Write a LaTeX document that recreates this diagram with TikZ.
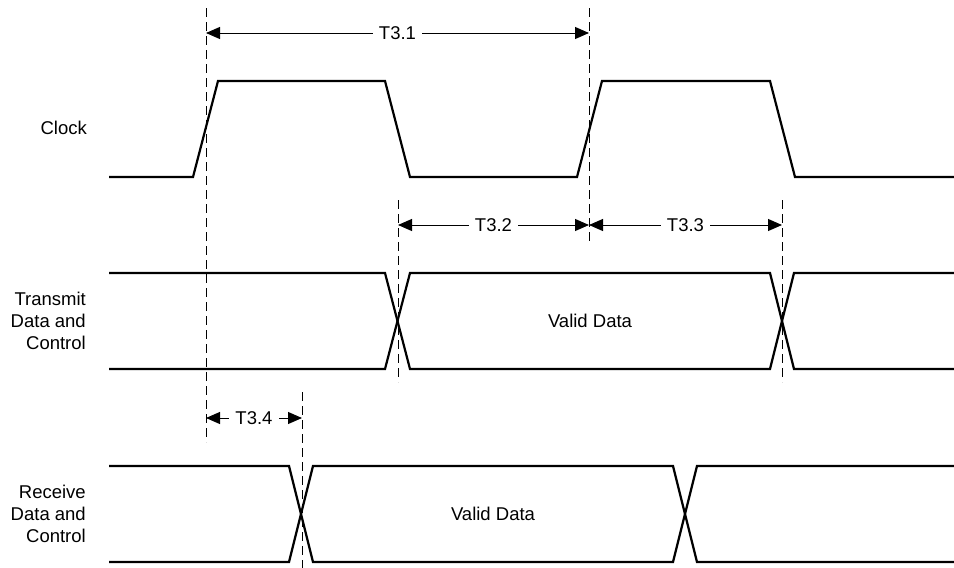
\documentclass[tikz,border=0pt]{standalone}
\usepackage{fontspec}
\setmainfont{Liberation Sans}
\usetikzlibrary{arrows.meta}

\begin{document}
\begin{tikzpicture}[x=1pt,y=-1pt,
  wave/.style={line width=2.2pt,line join=miter},
  guide/.style={line width=1pt,dash pattern=on 9pt off 5pt},
  span/.style={line width=1pt,{Triangle[length=14pt,width=12pt]}-{Triangle[length=14pt,width=12pt]}},
  lbl/.style={font=\fontsize{18.5}{22}\selectfont,inner sep=0pt},
  tag/.style={lbl,fill=white,inner xsep=6pt,inner ysep=2pt}]
  \useasboundingbox (0,0) rectangle (954,568);
  % signal names
  \node[lbl,anchor=east] (clk) at (87,128) {Clock};
  \node[lbl,anchor=east,align=right] (tx) at (86,321) {Transmit\\Data and\\Control};
  \node[lbl,anchor=east,align=right] (rx) at (86,514) {Receive\\Data and\\Control};
  % clock
  \draw[wave] (109,177) -- (193,177) -- (218,81) -- (385,81) -- (410,177)
    -- (577,177) -- (602,81) -- (770,81) -- (795,177) -- (954,177);
  % transmit data
  \draw[wave] (109,273) -- (385,273) -- (410,369) -- (770,369) -- (794,273) -- (954,273);
  \draw[wave] (109,369) -- (385,369) -- (410,273) -- (770,273) -- (794,369) -- (954,369);
  \node[lbl] (txvalid) at (590,321) {Valid Data};
  % receive data
  \draw[wave] (109,466) -- (289,466) -- (313,562) -- (673,562) -- (697,466) -- (954,466);
  \draw[wave] (109,562) -- (289,562) -- (313,466) -- (673,466) -- (697,562) -- (954,562);
  \node[lbl] (rxvalid) at (493,514) {Valid Data};
  % reference lines
  \coordinate (g1a) at (206,8);   \coordinate (g1b) at (206,442);
  \coordinate (g2a) at (589,8);   \coordinate (g2b) at (589,243);
  \coordinate (g3a) at (398,200); \coordinate (g3b) at (398,382);
  \coordinate (g4a) at (782,200); \coordinate (g4b) at (782,382);
  \coordinate (g5a) at (302,392); \coordinate (g5b) at (302,568);
  \foreach \g in {1,...,5}
    \draw[guide] (g\g a) -- (g\g b);
  % timing spans
  \coordinate (t1a) at (206,33);  \coordinate (t1b) at (589,33);
  \coordinate (t2a) at (398,225); \coordinate (t2b) at (589,225);
  \coordinate (t3b) at (782,225);
  \coordinate (t4a) at (206,418); \coordinate (t4b) at (302,418);
  \draw[span] (t1a) -- node[tag] (T31) {T3.1} (t1b);
  \draw[span] (t2a) -- node[tag] (T32) {T3.2} (t2b);
  \draw[span] (t2b) -- node[tag] (T33) {T3.3} (t3b);
  \draw[span] (t4a) -- node[tag] (T34) {T3.4} (t4b);
\end{tikzpicture}
\end{document}
